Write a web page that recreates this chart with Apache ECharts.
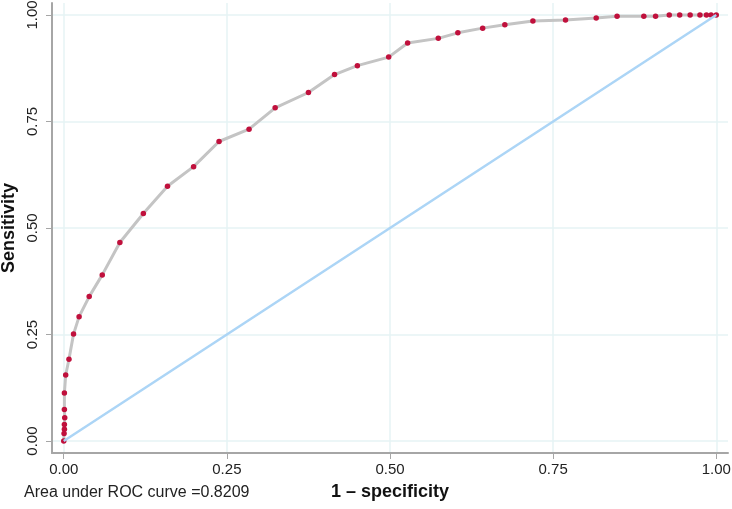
<!DOCTYPE html>
<html>
<head>
<meta charset="utf-8">
<script src="https://cdn.jsdelivr.net/npm/echarts@6/dist/echarts.min.js"></script>
<style>html,body{margin:0;padding:0;background:#fff}#c{width:732px;height:509px}</style>
</head>
<body>
<div id="c"></div>
<script>
// 1 - specificity (false positive rate)
const fpr = [0, 0.0005, 0.001, 0.001, 0.0015, 0.001, 0.001, 0.003, 0.008, 0.015, 0.0235, 0.039, 0.059, 0.086, 0.122, 0.159, 0.199, 0.238, 0.284, 0.324, 0.375, 0.415, 0.450, 0.498, 0.527, 0.574, 0.604, 0.642, 0.676, 0.719, 0.769, 0.816, 0.848, 0.889, 0.907, 0.928, 0.944, 0.960, 0.975, 0.985, 0.992, 1.0];
// Sensitivity (true positive rate)
const tpr = [0, 0.018, 0.028, 0.039, 0.055, 0.074, 0.113, 0.155, 0.192, 0.251, 0.292, 0.339, 0.390, 0.466, 0.534, 0.598, 0.644, 0.703, 0.732, 0.782, 0.818, 0.860, 0.881, 0.901, 0.934, 0.945, 0.958, 0.969, 0.977, 0.986, 0.988, 0.993, 0.997, 0.997, 0.997, 1.0, 1.0, 1.0, 1.0, 1.0, 1.0, 1.0];
const refX = [0, 1];
const refY = [0, 1];
const tickValues = [0, 0.25, 0.5, 0.75, 1];
const aucText = 'Area under ROC curve =0.8209';

const chart = echarts.init(document.getElementById('c'), null, {renderer: 'canvas'});
const font = 'Liberation Sans, Arial, sans-serif';
chart.setOption({
  animation: false,
  backgroundColor: '#fff',
  grid: {left: 52, right: 4, top: 3, bottom: 56, containLabel: false, outerBoundsMode: 'none'},
  xAxis: {
    type: 'value', min: -0.018, max: 1.018,
    name: '1 – specificity', nameLocation: 'middle', nameGap: 30, nameMoveOverlap: false,
    nameTextStyle: {fontFamily: font, fontSize: 18, fontWeight: 'bold', color: '#111'},
    axisLine: {show: true, onZero: false, lineStyle: {color: '#a6a6a6', width: 2}},
    axisTick: {show: true, length: 6, customValues: tickValues, lineStyle: {color: '#a6a6a6', width: 1}},
    axisLabel: {customValues: tickValues, margin: 9, fontFamily: font, fontSize: 15, color: '#222',
      formatter: v => v.toFixed(2)},
    splitLine: {show: true, lineStyle: {color: '#e6f3f5', width: 1.5}}
  },
  yAxis: {
    type: 'value', min: -0.028, max: 1.028,
    name: 'Sensitivity', nameLocation: 'middle', nameGap: 34, nameMoveOverlap: false,
    nameTextStyle: {fontFamily: font, fontSize: 18, fontWeight: 'bold', color: '#111'},
    axisLine: {show: true, onZero: false, lineStyle: {color: '#a6a6a6', width: 2}},
    axisTick: {show: true, length: 6, customValues: tickValues, lineStyle: {color: '#a6a6a6', width: 1}},
    axisLabel: {customValues: tickValues, rotate: 90, margin: 12, fontFamily: font, fontSize: 15, color: '#222',
      formatter: v => v.toFixed(2)},
    splitLine: {show: true, lineStyle: {color: '#e6f3f5', width: 1.5}}
  },
  graphic: [{
    type: 'text', left: 24, top: 485,
    style: {text: aucText, fontFamily: font, fontSize: 16, fill: '#222'}
  }],
  series: [{
    type: 'line',
    data: fpr.map((x, i) => [x, tpr[i]]),
    symbol: 'circle', symbolSize: 5.5,
    lineStyle: {color: '#c4c4c4', width: 3},
    itemStyle: {color: '#c0103c', borderWidth: 0},
    z: 2
  }, {
    type: 'line',
    data: refX.map((x, i) => [x, refY[i]]),
    symbol: 'none',
    lineStyle: {color: '#acd5f6', width: 2.5},
    z: 3
  }]
});
</script>
</body>
</html>
